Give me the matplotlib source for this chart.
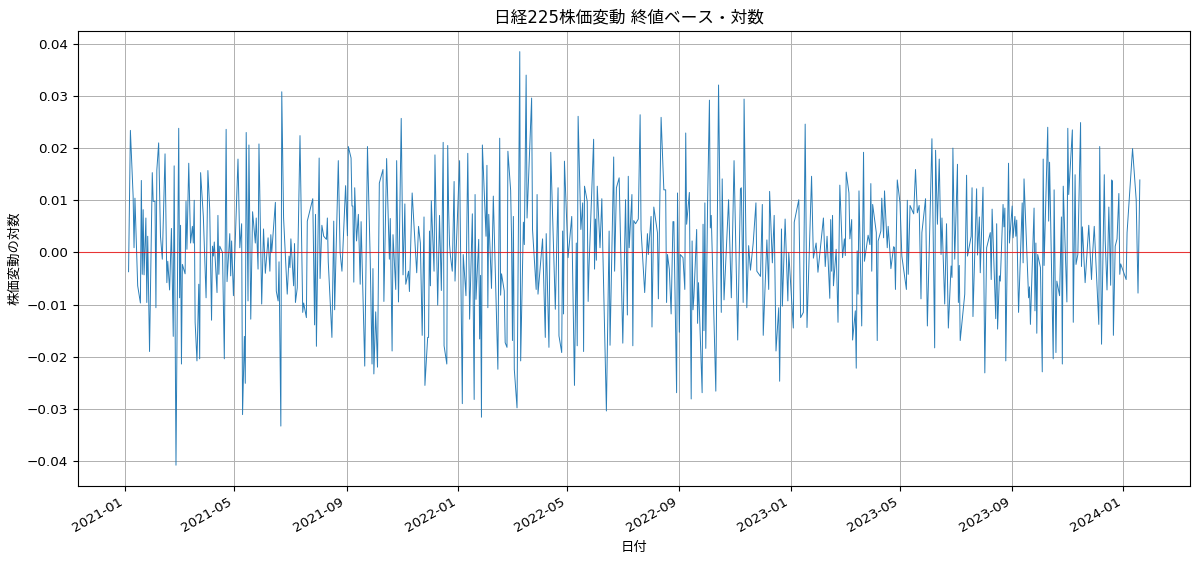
# 日経225 株価変動(終値ベース・対数)
import pandas as pd
import matplotlib
matplotlib.use('Agg')
import matplotlib.pyplot as plt

plt.rcParams['font.family'] = ['DejaVu Sans', 'Noto Sans CJK JP']

start_date = '2021-01-01'

# (2021-01-01 からの日数, 株価変動の対数) 図から読み取った値
part1 = [(4,-.0037),(6,.0234),(9,.0108),(10,.0009),(11,.0104),(14,-.0064),(17,-.0097),(18,.0138),(19,-.0042),(20,.0082),
(21,-.0043),(23,.0066),(24,-.0096),(25,.0031),(27,-.019),(30,.0153),(31,.0098),(33,.0098),(34,-.0106),(35,.0158),
(37,.021),(39,.0031),(41,-.0013),(44,.0189),(46,-.0058),(47,-.0017),(49,-.0072),(51,.0046),(53,-.0161),(54,.0166),
(56,-.0408),(59,.0238),(60,-.0087),(61,.0052),(62,-.0214),(63,-.0023),(66,-.0041),(67,.0098),(68,.0006),(70,.0171),
(72,.0018),(74,.005),(75,.0018),(76,.01),(77,-.0134),(79,-.0208),(81,-.0061),(82,-.0204),(83,.0153),(86,.0069),
(89,-.0087),(91,.0157),(93,.0082),(95,-.013),(96,.0012),(97,-.0007),(98,.002),(101,-.0077),(102,.0071),(103,-.0042),
(104,.0012),(107,0),(109,-.0204),(111,.0236),(112,-.0056),(115,.0036),(116,-.0045),(117,.0022),(119,-.0083),(124,.0179),
(126,.0009),(128,.0055),(129,-.0311),(131,-.0161),(132,-.0251),(133,.023),(135,-.0093),(136,.0206),(138,-.0128),(140,.0078),
(143,.0018),(144,.0066),(146,-.0032),(147,.0208),(150,-.0099),(152,.0045),(154,-.004),(157,.0028),(159,-.0036),(160,.0034),
(161,0),(165,.0096),(166,-.0074),(168,-.0093),(169,-.0018),(171,-.0333),(172,.0308),(174,.0066),(178,-.008),(180,-.0007)]

part2 = [(181,-.0029),(182,.0026),(185,-.0064),(186,.0017),(187,-.0096),(189,-.0068),(192,.0224),(195,-.0115),(196,-.0097),(199,-.0125),
(200,.006),(206,.0103),(208,-.0139),(209,.0073),(210,-.018),(213,.0181),(214,-.005),(216,.0052),(218,.0031),(221,.0025),
(222,.0066),(223,-.0018),(227,-.0163),(229,.006),(230,-.011),(234,.0176),(236,0),(238,-.0036),(242,.0128),(244,.0032),
(245,.0203),(248,.0181),(249,.0089),(250,.0089),(251,-.0057),(252,.0124),(254,.0022),(256,.0073),(258,-.0061),(259,.0059),
(263,-.0218),(266,.0203),(269,-.0013),(271,-.0214),(272,-.0031),(273,-.0233),(275,-.0114),(277,-.022),(279,.0133),(283,.0159),
(284,-.0094),(287,.018),(290,-.0013),(291,.0065),(293,-.0189),(294,.0034),(297,-.0071),(298,.0176),(300,-.0095),(303,.0257),
(305,-.0043),(307,.0093),(308,-.0061),(311,-.0036),(312,-.0075),(315,.0114),(320,-.0039),(322,.005),(324,.0018),(326,-.0159),
(328,.0068),(329,-.0255),(332,-.0163),(333,-.0163),(334,.0041),(335,-.0064),(336,.0099),(339,-.0036),(340,.0187),(343,-.0101),
(345,.0071),(347,-.0073),(349,.0211),(350,-.0179),(353,-.0214),(354,.0205),(355,.0082),(356,.0015)]

part3 = [(357,-.0007),(359,-.0036),(361,.0136),(362,-.0055),(367,.0176),(370,-.029),(371,-.0004),(374,-.0083),(376,.019),(378,-.0128),
(381,.0074),(383,-.0282),(384,.0111),(385,-.009),(388,.0025),(389,-.0166),(390,-.0044),(391,-.0316),(392,.0206),(396,.0031),
(397,.0167),(398,-.0106),(399,.0073),(402,-.0069),(404,.0108),(409,-.0224),(411,.0219),(412,-.0082),(413,-.0041),(416,-.0074),
(417,-.0173),(419,-.0182),(420,.0194),(423,.0119),(424,.0028),(425,-.0169),(426,.0069),(427,-.0224),(430,-.0298),(433,.0385),
(434,-.0208),(437,.0058),(438,.0015),(440,.034),(441,.0066),(446,.0296),(447,.0044),(451,-.0071),(452,.0111),(453,-.008),
(458,.0026),(461,-.0163),(462,.0036),(465,-.0182),(467,.0192),(472,-.0109),(475,.0124),(476,-.016),(479,-.0192),(480,.0041),
(481,-.0118),(482,.0175),(486,-.001),(490,.0069),(493,-.0255),(495,.0018),(496,-.0179),(497,.0261),(500,.0044),(502,.0095),
(503,-.019),(504,.0127),(507,.0098),(508,-.0094),(509,-.0026),(514,.0217),(515,-.0032),(516,.0064),(517,-.0015),(518,.0127),
(521,.0009),(523,.0103),(524,.0012),(528,-.0304),(531,.0041),(532,-.0178),(536,.0183),(537,-.0036),(539,.0124),(542,.0143)]

part4 = [(546,-.0174),(549,.0101),(551,-.012),(552,.0146),(553,.0009),(556,.0111),(557,-.0179),(558,.0061),(560,.0055),(563,.0064),
(565,.0264),(566,.0044),(570,-.0077),(573,.0036),(574,-.0004),(577,.0069),(578,-.0143),(580,.0087),(584,.0038),(585,-.0089),
(588,.0259),(591,.012),(593,.012),(594,-.0096),(595,-.0004),(597,-.0032),(599,-.0118),(601,.0059),(602,.0059),(605,-.0269),
(606,.0114),(608,-.0153),(609,-.0004),(612,-.001),(614,-.0071),(615,.0229),(616,.0054),(619,.0115),(621,-.0281),(622,.0022),
(623,-.011),(624,-.0084),(627,.0044),(628,-.0136),(629,-.0058),(633,-.0269),(634,.0054),(635,-.015),(636,.0095),(637,-.0184),
(639,.0095),(641,.0292),(642,.0047),(643,.0071),(648,-.0266),(651,.0321),(654,-.0115),(655,.0141),(657,-.0091),(662,.0101),
(665,-.0087),(668,.0176),(672,-.0168),(675,.0122),(676,.0124),(678,-.0096),(679,.0294),(682,-.0106),(684,.0013),(686,-.0034),
(689,.0018),(692,.0095),(693,-.0036),(697,-.0046),(699,.0092),(700,-.0159),(704,.0024),(706,-.0071),(707,.0117),(710,-.002),
(712,.0071),(714,-.0189),(717,-.0106),(718,-.0247),(720,.0045),(721,-.0103),(724,.0064),(727,-.0093),(728,0)]

part5 = [(733,-.0145),(734,.0058),(739,.0101),(741,-.0125),(744,-.0115),(746,.0246),(748,-.0144),(753,.0146),(755,-.0011),(758,.0018),
(760,-.0038),(766,.0066),(768,-.0027),(770,.0031),(773,-.0088),(774,.0063),(775,-.0036),(776,.0071),(777,-.0064),(780,.0006),
(782,-.0134),(784,.0129),(787,-.001),(789,.0026),(790,-.0006),(791,.0154),(794,.0114),(795,.0026),(797,.0063),(798,-.0168),
(801,-.0112),(802,-.0222),(803,.0003),(804,-.008),(805,.0118),(808,-.0141),(810,.0192),(811,-.0017),(815,.0033),(817,.0015),
(818,.0132),(819,-.0036),(820,.0092),(824,.0038),(825,-.0169),(826,.0022),(829,.0041),(830,.0104),(832,.0028),(833,.0118),
(836,.0009),(837,.005),(839,0),(840,-.0031),(843,.0011),(844,.0009),(845,-.0071),(847,.0139),(850,.0095),(852,-.0007),
(857,-.0071),(858,.01),(859,-.0042),(861,.009),(865,.0074),(867,.0159),(869,.0076),(871,.009),(873,-.0089),(874,.0038),
(878,.0103),(880,-.0141),(885,.0218),(888,-.0183),(889,.0196),(891,.0054),(893,.0179),(895,-.0004),(896,.0066),(899,-.0099),
(901,.0055),(903,-.0145),(906,-.0026),(907,-.0048),(908,.02),(910,-.0013),(913,.0169),(914,-.0096),(915,-.0025)]

part6 = [(916,-.0169),(921,-.008),(923,.0148),(924,-.0007),(926,.0012),(928,.0031),(929,.0124),(930,-.0123),(934,.0122),(935,-.0005),
(937,.0068),(938,-.0039),(941,.0125),(943,-.0231),(945,.0009),(949,.0038),(950,-.0052),(951,.0083),(955,-.0127),(956,.0055),
(957,-.0147),(959,-.0045),(960,-.0055),(963,.0092),(964,.0049),(965,.0085),(966,-.0208),(969,.0171),(970,.0018),(973,.0089),
(974,.0028),(976,.0069),(977,.0031),(978,.0062),(980,-.0115),(984,.0095),(985,-.002),(986,.0141),(991,-.0087),(992,-.0066),
(993,-.0138),(997,.0085),(998,-.0112),(999,.0018),(1000,-.0155),(1001,-.0004),(1004,-.0029),(1006,-.0229),(1007,.0179),(1008,-.0025),
(1012,.024),(1013,.006),(1014,.0173),(1018,-.0204),(1019,.012),(1021,-.0192),(1022,-.0055),(1025,-.0083),(1027,.0068),(1028,-.0214),
(1029,.0127),(1033,-.0095),(1034,.0238),(1035,.0111),(1039,.0235),(1040,-.0134),(1042,.0149),(1043,-.0023),(1045,-.0004),(1048,.0249),
(1049,-.0027),(1050,.0049),(1053,-.0058),(1057,.0052),(1060,-.0052),(1061,-.001),(1063,.005),(1068,-.0138),(1069,.0203),(1071,-.0176),
(1074,.0149),(1075,.0024),(1077,-.0072),(1079,.0087),(1081,-.0063),(1082,.0139),(1083,.0137),(1084,-.0159),(1086,.0012),(1088,.0026),
(1090,.0113),(1091,-.0042),(1092,-.0022),(1098,-.0052),(1099,.0038),(1105,.0199),(1109,.0101),(1111,-.0078),(1113,.0139)]

df = pd.DataFrame(part1 + part2 + part3 + part4 + part5 + part6, columns=['day', 'log_return'])
df['date'] = pd.Timestamp(start_date) + pd.to_timedelta(df['day'], unit='D')

fig, ax = plt.subplots(figsize=(12, 5.63), dpi=100)
ax.plot(df['date'], df['log_return'], linewidth=0.7, color='C0', alpha=0.95)
ax.axhline(0, color='red', linewidth=0.8, alpha=0.7)
ax.grid(True, linewidth=0.7)
ax.tick_params(labelsize=9.7)

ax.set_title('日経225株価変動 終値ベース・対数', fontsize=12, x=0.495)
ax.set_xlabel('日付', fontsize=9.6)
ax.set_ylabel('株価変動の対数', fontsize=9.6)

fig.autofmt_xdate()
fig.subplots_adjust(left=0.065, right=0.992, top=0.945, bottom=0.137)
fig.savefig('out.png', dpi=100)
